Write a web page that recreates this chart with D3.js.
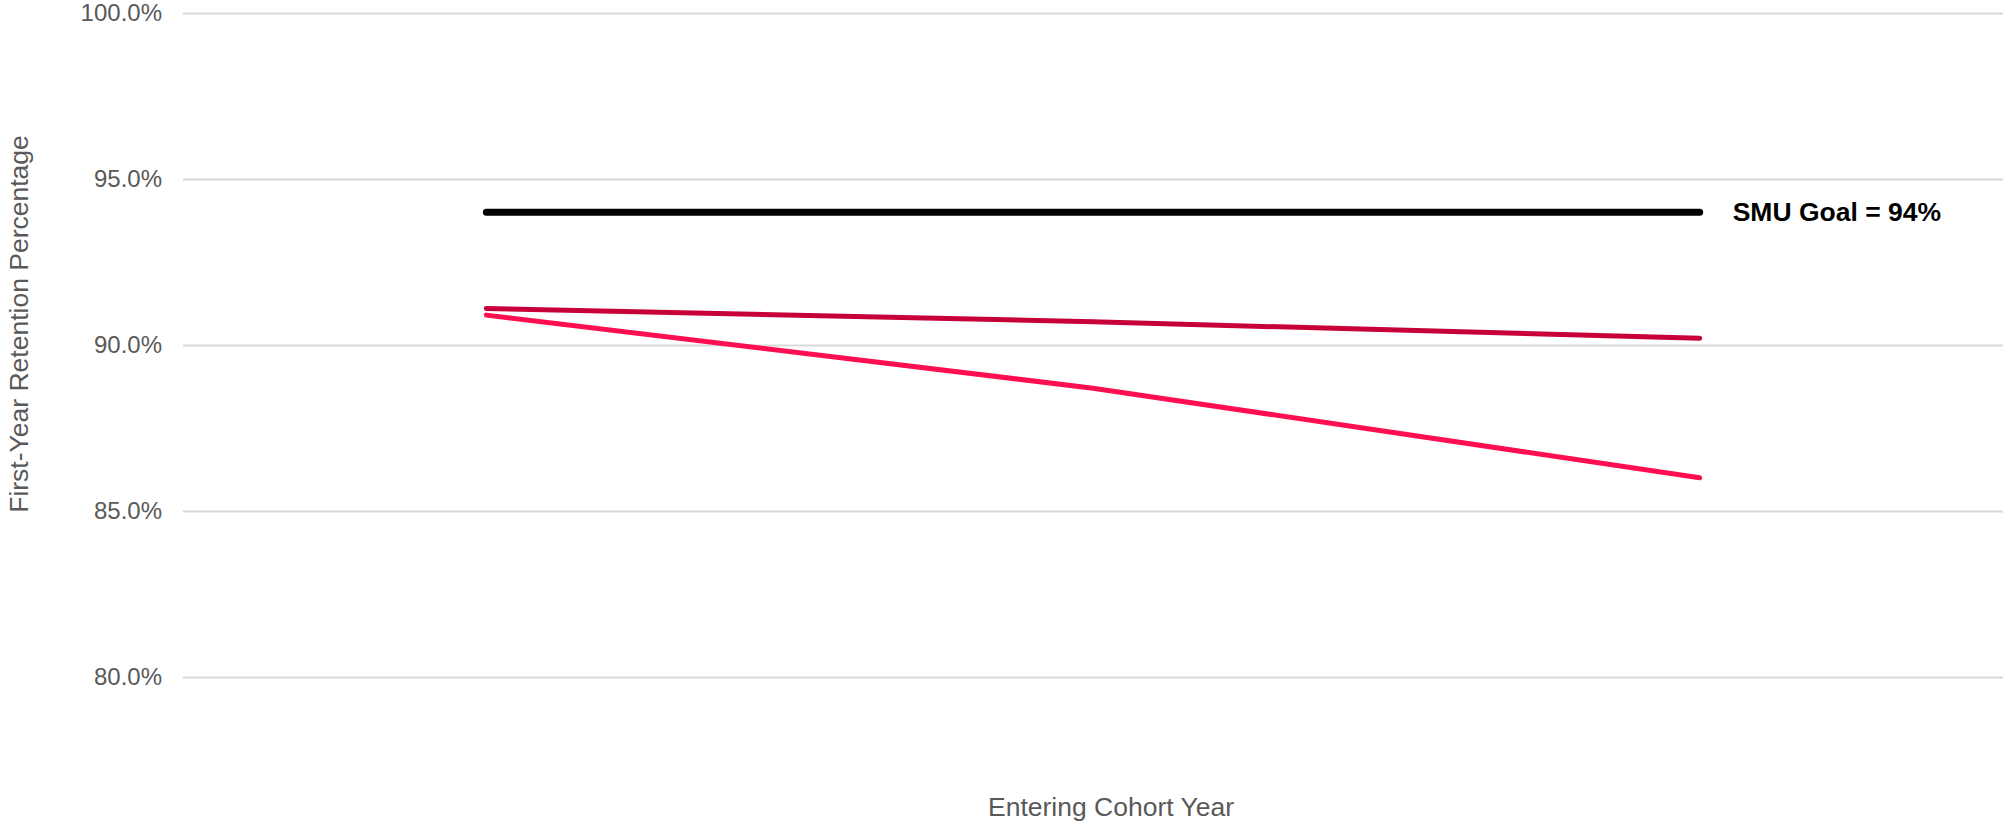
<!DOCTYPE html>
<html>
<head>
<meta charset="utf-8">
<script src="https://cdn.jsdelivr.net/npm/d3@7/dist/d3.min.js"></script>
<style>
  html, body { margin: 0; padding: 0; background: #ffffff; }
  svg { display: block; font-family: "Liberation Sans", Arial, sans-serif; }
</style>
</head>
<body>
<svg id="chart" width="2003" height="827"></svg>
<script>
// Entering cohorts (unlabelled on the axis)
const cohorts = [1, 2, 3];
// First-year retention rates, percent
const retentionA = [91.1, 90.7, 90.2];
const retentionB = [90.9, 88.7, 86.0];
const goalValues = [94, 94, 94];
const goalLabel = "SMU Goal = 94%";
// Y-axis ticks
const yTicks = [80, 85, 90, 95, 100];

const svg = d3.select("#chart");
const plot = { left: 183, right: 2003, top: 13, bottom: 677 };

const x = d3.scalePoint().domain(cohorts).range([plot.left, plot.right]).padding(0.5);
const y = d3.scaleLinear().domain([80, 100]).range([plot.bottom, plot.top]);

// Horizontal gridlines + tick labels
const yAxis = d3.axisLeft(y)
  .tickValues(yTicks)
  .tickSize(-(plot.right - plot.left))
  .tickPadding(21)
  .tickFormat(d => d.toFixed(1) + "%");

const gy = svg.append("g")
  .attr("transform", `translate(${plot.left},0)`)
  .call(yAxis);
gy.select(".domain").remove();
gy.selectAll(".tick line").attr("stroke", "#d9d9d9").attr("stroke-width", 2);
gy.selectAll(".tick text")
  .attr("fill", "#595959")
  .attr("font-size", 24)
  .attr("font-family", "'Liberation Sans', Arial, sans-serif");

// Lines
const line = d3.line().x((d, i) => x(cohorts[i])).y(d => y(d));

const series = [
  { values: goalValues, color: "#000000", width: 7 },
  { values: retentionA, color: "#c8003a", width: 5 },
  { values: retentionB, color: "#ff0f4f", width: 5 }
];

svg.append("g").selectAll("path")
  .data(series)
  .join("path")
  .attr("d", d => line(d.values))
  .attr("fill", "none")
  .attr("stroke", d => d.color)
  .attr("stroke-width", d => d.width)
  .attr("stroke-linecap", "round")
  .attr("stroke-linejoin", "round");

// Goal label
svg.append("text")
  .attr("x", x(cohorts[cohorts.length - 1]) + 33)
  .attr("y", y(goalValues[goalValues.length - 1]))
  .attr("dy", "0.35em")
  .attr("font-size", 26.5)
  .attr("font-weight", "bold")
  .attr("fill", "#000000")
  .text(goalLabel);

// Axis titles
svg.append("text")
  .attr("x", 1111)
  .attr("y", 816)
  .attr("text-anchor", "middle")
  .attr("font-size", 26.5)
  .attr("fill", "#595959")
  .text("Entering Cohort Year");

svg.append("text")
  .attr("transform", "translate(28,324) rotate(-90)")
  .attr("text-anchor", "middle")
  .attr("font-size", 26.5)
  .attr("fill", "#595959")
  .text("First-Year Retention Percentage");
</script>
</body>
</html>
